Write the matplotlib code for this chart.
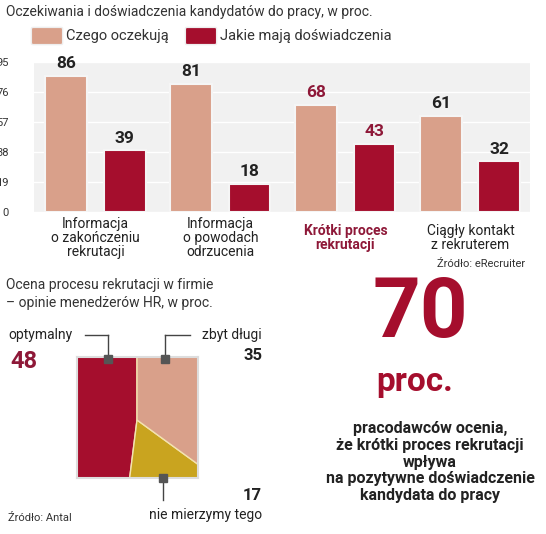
import matplotlib
matplotlib.use("Agg")
import matplotlib.pyplot as plt
import numpy as np
from matplotlib.patches import Rectangle, FancyBboxPatch

categories = ["Informacja\no zakończeniu\nrekrutacji", "Informacja\no powodach\nodrzucenia",
              "Krótki proces\nrekrutacji", "Ciągły kontakt\nz rekruterem"]
expect = [86, 81, 68, 61]
experience = [39, 18, 43, 32]
yticks = [0, 19, 38, 57, 76, 95]
pie_labels = ["optymalny", "nie mierzymy tego", "zbyt długi"]
pie_values = [48, 17, 35]

PINK = "#D9A08A"; RED = "#A50E2D"; YEL = "#C9A41F"; HL = "#8E1838"
W, H = 546, 534
fig = plt.figure(figsize=(W/100, H/100), dpi=100)
plt.rcParams['font.family'] = ['Liberation Sans Narrow', 'Roboto', 'DejaVu Sans']

def T(x, y, s, **kw):
    fig.text(x/W, 1-y/H, s, **kw)

def ax_px(x0, y0, x1, y1):
    return fig.add_axes([x0/W, 1-y1/H, (x1-x0)/W, (y1-y0)/H])

T(6, 12, "Oczekiwania i doświadczenia kandydatów do pracy, w proc.", fontsize=10, va="center", color="#333")
fig.patches.append(FancyBboxPatch((33/W, 1-43/H), 28/W, 14/H, boxstyle="round,pad=0.003",
                                  transform=fig.transFigure, fc=PINK, ec="#eee"))
T(66, 36, "Czego oczekują", fontsize=10.5, va="center", color="#333")
fig.patches.append(FancyBboxPatch((187/W, 1-43/H), 28/W, 14/H, boxstyle="round,pad=0.003",
                                  transform=fig.transFigure, fc=RED, ec="#eee"))
T(220, 36, "Jakie mają doświadczenia", fontsize=10.5, va="center", color="#333")

# bar chart
ax = ax_px(34, 62, 530, 212)
ax.set_facecolor("#F1F1F1")
x = np.arange(len(categories))
ax.bar(x-0.235, expect, 0.335, color=PINK, ec="#f5f5f5", lw=1.5, zorder=3)
ax.bar(x+0.235, experience, 0.335, color=RED, ec="#f5f5f5", lw=1.5, zorder=3)
ax.set_xlim(-0.49, 3.48); ax.set_ylim(0, 95)
ax.set_yticks(yticks)
ax.set_yticklabels([str(v) for v in yticks], fontsize=8, color="#333")
ax.tick_params(length=0, pad=18)
ax.set_xticks([])
for s in ax.spines.values(): s.set_visible(False)
ax.grid(axis="y", color="white", lw=1, zorder=1)
for i in range(4):
    c = HL if i == 2 else "#222"
    ax.text(i-0.235, expect[i]+3, str(expect[i]), ha="center", va="bottom", fontsize=12.5, fontweight="bold", color=c)
    ax.text(i+0.235, experience[i]+3, str(experience[i]), ha="center", va="bottom", fontsize=12.5, fontweight="bold", color=c)
    T(95.5+125*i, 238, categories[i], ha="center", va="center", fontsize=10, linespacing=1.0,
      color=(HL if i == 2 else "#222"), fontweight=("bold" if i == 2 else "normal"))
T(525, 264, "Źródło: eRecruiter", ha="right", va="center", fontsize=8, color="#333")

T(6, 285, "Ocena procesu rekrutacji w firmie", fontsize=10, va="center", color="#333")
T(6, 303, "– opinie menedżerów HR, w proc.", fontsize=10, va="center", color="#333")

# pie in square
pa = ax_px(77, 357, 198, 478)
wedges, _ = pa.pie(pie_values, colors=[RED, YEL, PINK], startangle=90, counterclock=True,
                   center=(60, 58), radius=200, wedgeprops=dict(ec="#f3e3b0", lw=1), frame=True)
pa.set_xlim(0, 121); pa.set_ylim(0, 121)
pa.set_aspect("auto")
pa.set_xticks([]); pa.set_yticks([])
for s in pa.spines.values(): s.set_color("#ddd"); s.set_linewidth(1.5)
for w in wedges:
    w.set_clip_on(True); w.set_clip_path(pa.patch)

# callouts
lk = dict(color="#444", lw=1)
fig.add_artist(plt.Line2D([85/W, 108/W], [1-335/H, 1-335/H], **lk))
fig.add_artist(plt.Line2D([108/W, 108/W], [1-335/H, 1-358/H], **lk))
fig.add_artist(plt.Line2D([165/W, 190/W], [1-335/H, 1-335/H], **lk))
fig.add_artist(plt.Line2D([165/W, 165/W], [1-335/H, 1-358/H], **lk))
fig.add_artist(plt.Line2D([163/W, 163/W], [1-478/H, 1-500/H], **lk))
for (px, py) in [(108, 359), (165, 359), (163, 478)]:
    fig.add_artist(Rectangle(((px-4)/W, 1-(py+4)/H), 8/W, 8/H, transform=fig.transFigure, fc="#555", ec="#555", zorder=10))
T(8, 335, "optymalny", fontsize=10, va="center", color="#222")
T(10, 362, "48", fontsize=17, fontweight="bold", va="center", color=HL)
T(262, 335, "zbyt długi", fontsize=10, va="center", ha="right", color="#222")
T(262, 356, "35", fontsize=12, fontweight="bold", va="center", ha="right", color="#222")
T(262, 495, "17", fontsize=12, fontweight="bold", va="center", ha="right", color="#222")
T(262, 515, "nie mierzymy tego", fontsize=10, va="center", ha="right", color="#222")
T(8, 518, "Źródło: Antal", fontsize=8, va="center", color="#333")

T(420, 315, "70", fontsize=60, fontweight="bold", ha="center", va="center", color=RED)
T(415, 382, "proc.", fontsize=24, fontweight="bold", ha="center", va="center", color=RED)
T(430, 462, "pracodawców ocenia,\nże krótki proces rekrutacji\nwpływa\nna pozytywne doświadczenie\nkandydata do pracy",
  fontsize=11.5, fontweight="bold", ha="center", va="center", linespacing=1.15, color="#222")

fig.savefig("out.png", dpi=100)
